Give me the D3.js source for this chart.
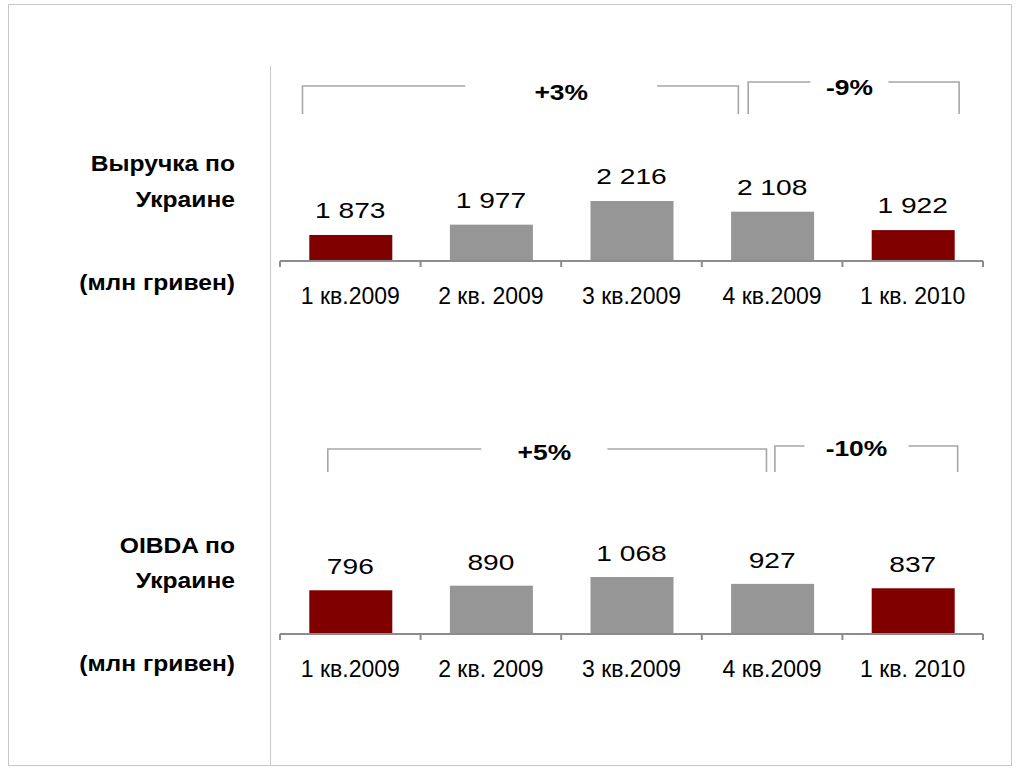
<!DOCTYPE html>
<html>
<head>
<meta charset="utf-8">
<script src="https://cdn.jsdelivr.net/npm/d3@7"></script>
<style>
  body { margin: 0; background: #fff; }
  text { font-family: "Liberation Sans", Arial, sans-serif; }
</style>
</head>
<body>
<div id="chart"></div>
<script>
// data
var quarters = ["1 кв.2009", "2 кв. 2009", "3 кв.2009", "4 кв.2009", "1 кв. 2010"]
var revenue = [1873, 1977, 2216, 2108, 1922]
var oibda = [796, 890, 1068, 927, 837]
var highlight = [true, false, false, false, true]
var revenueTitle = ["Выручка по", "Украине", "(млн гривен)"]
var oibdaTitle = ["OIBDA по", "Украине", "(млн гривен)"]
// growth brackets: [from, to] in category units, label
var revenueGrowth = [
  {span: [0.16, 3.26], label: "+3%", at: 2.0},
  {span: [3.33, 4.83], label: "-9%", at: 4.05}
]
var oibdaGrowth = [
  {span: [0.34, 3.46], label: "+5%", at: 1.88},
  {span: [3.52, 4.82], label: "-10%", at: 4.1}
]

var W = 1022, H = 770
var red = "#800000", grey = "#969696"

var svg = d3.select("#chart")
  .append("svg")
    .attr("width", W)
    .attr("height", H)

// frame
svg.append("rect")
  .attr("x", 8.5).attr("y", 4.5)
  .attr("width", 1003).attr("height", 761)
  .attr("fill", "none")
  .attr("stroke", "#c8c8c8")
svg.append("line")
  .attr("x1", 270.5).attr("x2", 270.5)
  .attr("y1", 66).attr("y2", 765)
  .attr("stroke", "#c8c8c8")

var x = d3.scaleBand()
  .domain(quarters)
  .range([280, 983])
var step = x.step()
var xu = function (u) { return x.range()[0] + u * step }

function stretched(g, px, py, s, txt) {
  return g.append("text")
    .attr("transform", "translate(" + px + "," + py + ") scale(" + s + ",1)")
    .text(txt)
}

function panel(values, y, baseline, title, titleY, growth, bracketY, labelGap) {
  var g = svg.append("g")

  // bars
  g.selectAll("rect.bar")
    .data(values)
    .enter().append("rect")
      .attr("class", "bar")
      .attr("x", (d, i) => x(quarters[i]) + step / 2 - 41)
      .attr("width", 83)
      .attr("y", d => y(d))
      .attr("height", d => baseline - y(d))
      .attr("fill", (d, i) => highlight[i] ? red : grey)

  // value labels
  values.forEach(function (v, i) {
    stretched(g, x(quarters[i]) + step / 2, y(v) - labelGap, 1.28, d3.format(",")(v).replace(",", " "))
      .attr("text-anchor", "middle")
      .attr("font-size", 22)
      .attr("fill", "#000")
  })

  // axis
  g.append("line")
    .attr("x1", x.range()[0]).attr("x2", x.range()[1])
    .attr("y1", baseline).attr("y2", baseline)
    .attr("stroke", "#8c8c8c").attr("stroke-width", 2)
  var ticks = quarters.map(q => x(q)).concat([x.range()[1]])
  g.selectAll("line.tick")
    .data(ticks)
    .enter().append("line")
      .attr("class", "tick")
      .attr("x1", d => d).attr("x2", d => d)
      .attr("y1", baseline).attr("y2", baseline + 6)
      .attr("stroke", "#8c8c8c").attr("stroke-width", 2)

  g.selectAll("text.cat")
    .data(quarters)
    .enter().append("text")
      .attr("class", "cat")
      .attr("x", d => x(d) + step / 2)
      .attr("y", baseline + 43)
      .attr("text-anchor", "middle")
      .attr("font-size", 23)
      .attr("fill", "#000")
      .text(d => d)

  // title on the left
  title.forEach(function (t, i) {
    stretched(g, 235, titleY[i], 1.12, t)
      .attr("text-anchor", "end")
      .attr("font-size", 22)
      .attr("font-weight", "bold")
      .attr("fill", "#000")
  })

  // growth brackets
  growth.forEach(function (b, i) {
    var x0 = xu(b.span[0]), x1 = xu(b.span[1])
    var top = bracketY[i][0], bot = bracketY[i][1]
    var cx = xu(b.at)
    stretched(g, cx, top + bracketY[i][2], 1.2, b.label)
      .attr("text-anchor", "middle")
      .attr("font-size", 22)
      .attr("font-weight", "bold")
      .attr("fill", "#000")
    var gap = bracketY[i][3]
    var path = d3.path()
    path.moveTo(x0, bot); path.lineTo(x0, top); path.lineTo(cx - gap, top)
    path.moveTo(cx + gap, top); path.lineTo(x1, top); path.lineTo(x1, bot)
    g.append("path")
      .attr("d", path.toString())
      .attr("fill", "none")
      .attr("stroke", "#a6a6a6")
      .attr("stroke-width", 1.6)
  })
}

var yTop = d3.scaleLinear().domain([1610, 2216]).range([261, 201])
var yBot = d3.scaleLinear().domain([-100, 1068]).range([634, 577])

panel(revenue, yTop, 261, revenueTitle, [171, 207, 290], revenueGrowth,
  [[86, 114, 14, 96], [82, 114, 13, 39]], 17)
panel(oibda, yBot, 634, oibdaTitle, [553, 588, 671], oibdaGrowth,
  [[449, 472, 11, 63], [446, 472, 10, 52]], 16)
</script>
</body>
</html>
